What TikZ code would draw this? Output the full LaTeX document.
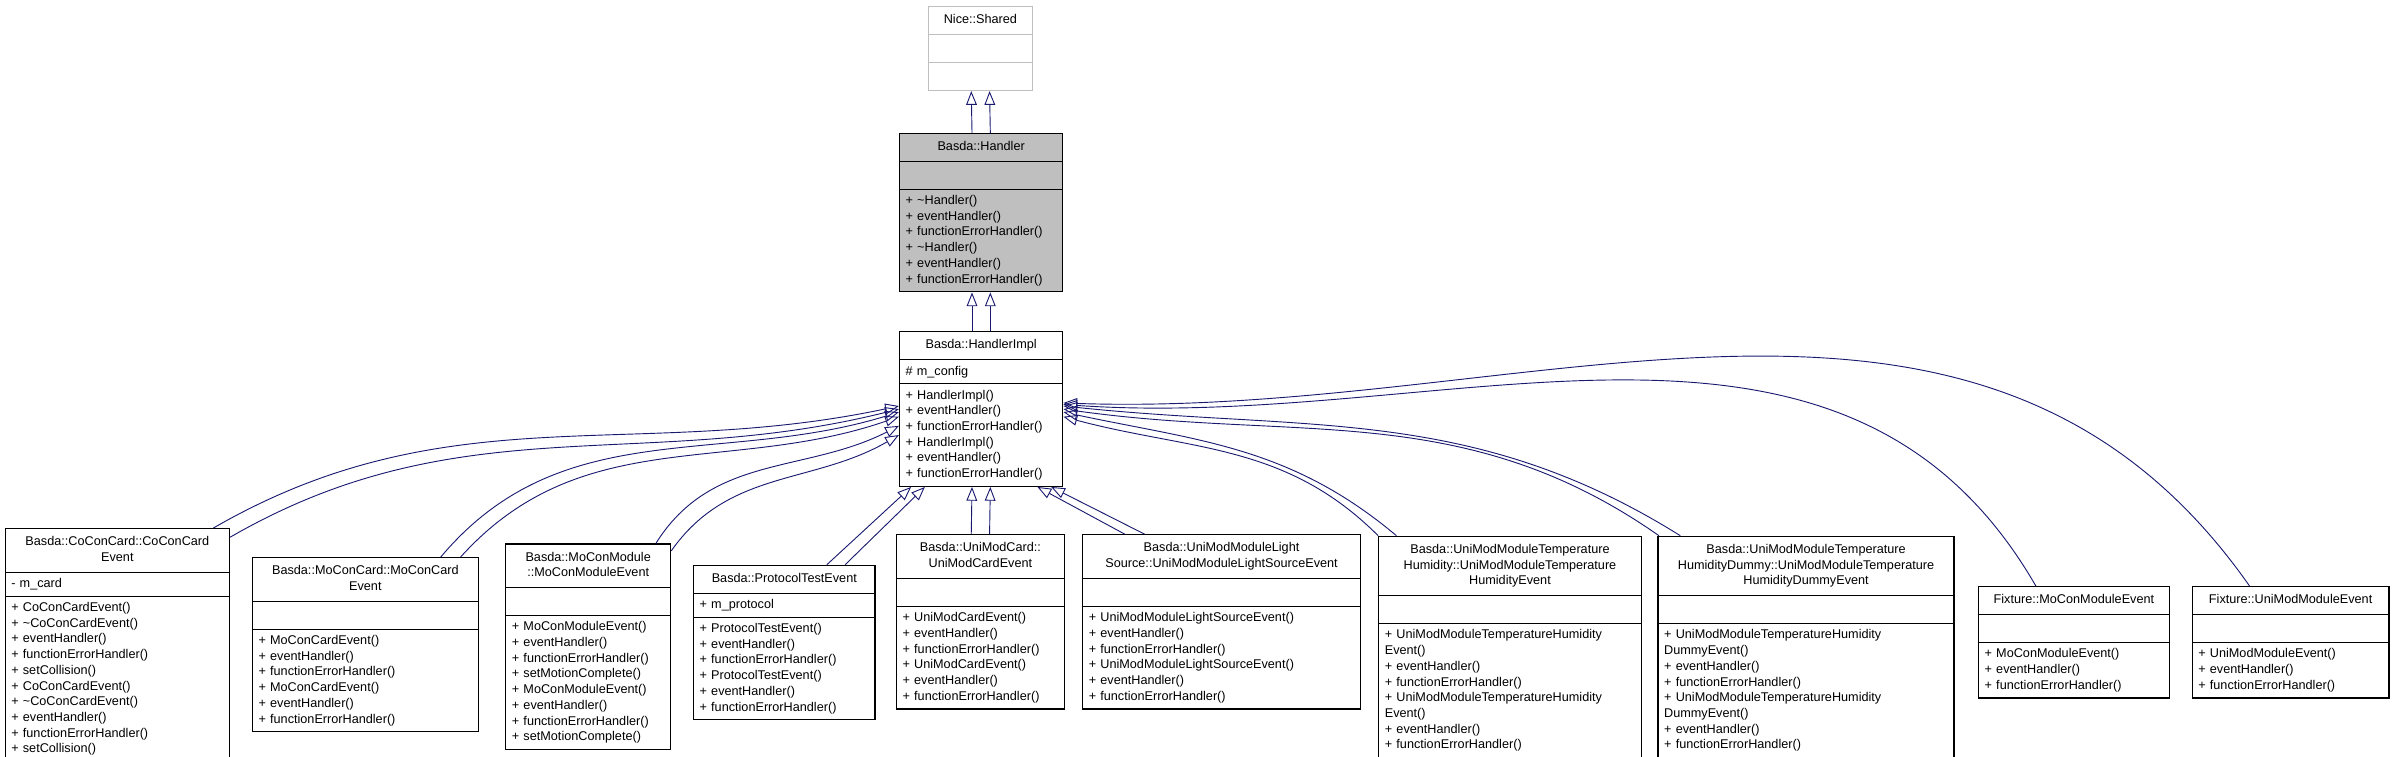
\documentclass[tikz,border=0pt]{standalone}
\usepackage{fontspec}
\setmainfont{Liberation Sans}
\usetikzlibrary{positioning, shapes.multipart, arrows.meta}
\definecolor{edgeblue}{HTML}{191970}
\definecolor{hgray}{HTML}{BFBFBF}
\tikzstyle{umlclass} = [rectangle split, rectangle split parts=3, draw=black, line width=0.8pt, anchor=north west, inner xsep=4pt, inner ysep=3.6pt, font=\fontsize{8.3}{10.3}\selectfont, fill=white]
\tikzstyle{inherit} = [draw=edgeblue, line width=0.6pt, -{Triangle[open,length=9pt,width=7pt]}]
\newcommand{\ttl}[1]{\noindent\makebox[\linewidth]{\begin{tabular}{@{}c@{}}#1\end{tabular}}}
\newcommand{\lft}{\noindent\raggedright}

\begin{document}
\begin{tikzpicture}[x=1pt, y=-1pt]
\useasboundingbox (0,0) rectangle (1568,496);

\node (shared) [umlclass, draw=hgray, text width=60pt] at (608,4) {\ttl{Nice::Shared} \nodepart{two}\strut \nodepart{three}\strut};
\node (handler) [umlclass, fill=hgray, text width=99pt] at (589,87) {\ttl{Basda::Handler} \nodepart{two}\strut \nodepart{three}\lft + \textasciitilde Handler()\\+ eventHandler()\\+ functionErrorHandler()\\+ \textasciitilde Handler()\\+ eventHandler()\\+ functionErrorHandler()};
\node (impl) [umlclass, text width=99pt] at (589,217) {\ttl{Basda::HandlerImpl} \nodepart{two}\lft \# m\_config \nodepart{three}\lft + HandlerImpl()\\+ eventHandler()\\+ functionErrorHandler()\\+ HandlerImpl()\\+ eventHandler()\\+ functionErrorHandler()};

\draw [inherit] ([xshift=-6pt]handler.north) -- ([xshift=-6pt]shared.south);
\draw [inherit] ([xshift=6pt]handler.north) -- ([xshift=6pt]shared.south);
\draw [inherit] ([xshift=-6pt]impl.north) -- ([xshift=-6pt]handler.south);
\draw [inherit] ([xshift=6pt]impl.north) -- ([xshift=6pt]handler.south);

% derived classes
\node (cocon) [umlclass, text width=139pt] at (3,346) {\ttl{Basda::CoConCard::CoConCard\\Event} \nodepart{two}\lft - m\_card \nodepart{three}\lft + CoConCardEvent()\\+ \textasciitilde CoConCardEvent()\\+ eventHandler()\\+ functionErrorHandler()\\+ setCollision()\\+ CoConCardEvent()\\+ \textasciitilde CoConCardEvent()\\+ eventHandler()\\+ functionErrorHandler()\\+ setCollision()};
\node (mocon) [umlclass, text width=140pt] at (165,365) {\ttl{Basda::MoConCard::MoConCard\\Event} \nodepart{two}\strut \nodepart{three}\lft + MoConCardEvent()\\+ eventHandler()\\+ functionErrorHandler()\\+ MoConCardEvent()\\+ eventHandler()\\+ functionErrorHandler()};
\node (mocmod) [umlclass, text width=100pt] at (331,356) {\ttl{Basda::MoConModule\\::MoConModuleEvent} \nodepart{two}\strut \nodepart{three}\lft + MoConModuleEvent()\\+ eventHandler()\\+ functionErrorHandler()\\+ setMotionComplete()\\+ MoConModuleEvent()\\+ eventHandler()\\+ functionErrorHandler()\\+ setMotionComplete()};
\node (proto) [umlclass, text width=111pt] at (454,370) {\ttl{Basda::ProtocolTestEvent} \nodepart{two}\lft + m\_protocol \nodepart{three}\lft + ProtocolTestEvent()\\+ eventHandler()\\+ functionErrorHandler()\\+ ProtocolTestEvent()\\+ eventHandler()\\+ functionErrorHandler()};
\node (unicard) [umlclass, text width=102pt] at (587,350) {\ttl{Basda::UniModCard::\\UniModCardEvent} \nodepart{two}\strut \nodepart{three}\lft + UniModCardEvent()\\+ eventHandler()\\+ functionErrorHandler()\\+ UniModCardEvent()\\+ eventHandler()\\+ functionErrorHandler()};
\node (light) [umlclass, text width=174pt] at (709,350) {\ttl{Basda::UniModModuleLight\\Source::UniModModuleLightSourceEvent} \nodepart{two}\strut \nodepart{three}\lft + UniModModuleLightSourceEvent()\\+ eventHandler()\\+ functionErrorHandler()\\+ UniModModuleLightSourceEvent()\\+ eventHandler()\\+ functionErrorHandler()};
\node (temphum) [umlclass, text width=164pt] at (903,351) {\ttl{Basda::UniModModuleTemperature\\Humidity::UniModModuleTemperature\\HumidityEvent} \nodepart{two}\strut \nodepart{three}\lft + UniModModuleTemperatureHumidity\\Event()\\+ eventHandler()\\+ functionErrorHandler()\\+ UniModModuleTemperatureHumidity\\Event()\\+ eventHandler()\\+ functionErrorHandler()};
\node (dummy) [umlclass, text width=186pt] at (1086,351) {\ttl{Basda::UniModModuleTemperature\\HumidityDummy::UniModModuleTemperature\\HumidityDummyEvent} \nodepart{two}\strut \nodepart{three}\lft + UniModModuleTemperatureHumidity\\DummyEvent()\\+ eventHandler()\\+ functionErrorHandler()\\+ UniModModuleTemperatureHumidity\\DummyEvent()\\+ eventHandler()\\+ functionErrorHandler()};
\node (fixmocon) [umlclass, text width=117pt] at (1296,384) {\ttl{Fixture::MoConModuleEvent} \nodepart{two}\strut \nodepart{three}\lft + MoConModuleEvent()\\+ eventHandler()\\+ functionErrorHandler()};
\node (fixunimod) [umlclass, text width=121pt] at (1436,384) {\ttl{Fixture::UniModModuleEvent} \nodepart{two}\strut \nodepart{three}\lft + UniModModuleEvent()\\+ eventHandler()\\+ functionErrorHandler()};

% inheritance edges
\draw [inherit] ([xshift=-11pt]cocon.north east) to[out=30,in=192] ([yshift=2pt]impl.west);
\draw [inherit] ([yshift=-6pt]cocon.north east) to[out=30,in=194] ([yshift=0pt]impl.west);
\draw [inherit] ([xshift=-25pt]mocon.north east) to[out=50,in=197] ([yshift=-2pt]impl.west);
\draw [inherit] ([xshift=-12pt]mocon.north east) to[out=48,in=199] ([yshift=-5pt]impl.west);
\draw [inherit] ([xshift=-10pt]mocmod.north east) to[out=58,in=207] ([yshift=-11pt]impl.west);
\draw [inherit] ([yshift=-5pt]mocmod.north east) to[out=55,in=210] ([yshift=-17pt]impl.west);
\draw [inherit] ([xshift=-32pt]proto.north east) -- ([xshift=8pt]impl.south west);
\draw [inherit] ([xshift=-20pt]proto.north east) -- ([xshift=17pt]impl.south west);
\draw [inherit] ([xshift=-6pt]unicard.north) -- ([xshift=-6pt]impl.south);
\draw [inherit] ([xshift=6pt]unicard.north) -- ([xshift=6pt]impl.south);
\draw [inherit] ([xshift=28pt]light.north west) -- ([xshift=-17pt]impl.south east);
\draw [inherit] ([xshift=41pt]light.north west) -- ([xshift=-8pt]impl.south east);
\draw [inherit] (temphum.north west) to[out=135,in=-15] ([yshift=-5pt]impl.east);
\draw [inherit] ([xshift=12pt]temphum.north west) to[out=140,in=-12] ([yshift=-2pt]impl.east);
\draw [inherit] ([xshift=1pt]dummy.north west) to[out=145,in=-8] ([yshift=0pt]impl.east);
\draw [inherit] ([xshift=15pt]dummy.north west) to[out=148,in=-6] ([yshift=2pt]impl.east);
\draw [inherit] ([xshift=38pt]fixmocon.north west) to[out=120,in=-4] ([yshift=3pt]impl.east);
\draw [inherit] ([xshift=38pt]fixunimod.north west) to[out=125,in=-2] ([yshift=4pt]impl.east);
\end{tikzpicture}
\end{document}
